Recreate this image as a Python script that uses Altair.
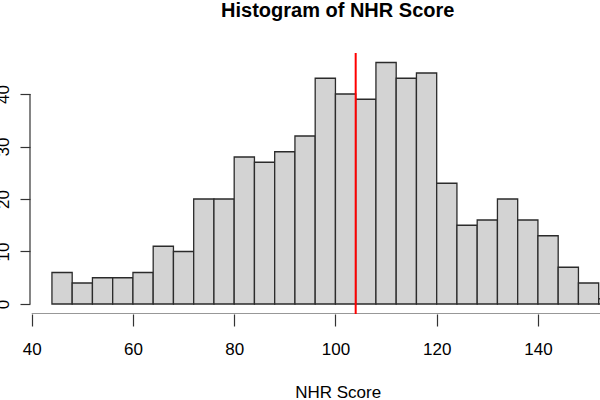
import altair as alt
import pandas as pd

# Histogram bins (width 4) and counts
bin_starts = [44, 48, 52, 56, 60, 64, 68, 72, 76, 80, 84, 88, 92, 96, 100,
              104, 108, 112, 116, 120, 124, 128, 132, 136, 140, 144, 148, 152]
counts = [6, 4, 5, 5, 6, 11, 10, 20, 20, 28, 27, 29, 32, 43, 40,
          39, 46, 43, 44, 23, 15, 16, 20, 16, 13, 7, 4, 1]
bin_width = 4
mean_value = 104
x_ticks = [40, 60, 80, 100, 120, 140, 160]
y_ticks = [0, 10, 20, 30, 40]
title_text = "Histogram of NHR Score"

df = pd.DataFrame({
    "start": bin_starts,
    "end": [b + bin_width for b in bin_starts],
    "count": counts,
})

FONT = "Liberation Sans"
X_DOMAIN = [33.74, 152.26]
Y_DOMAIN = [-1.905, 47.81]
W, H = 600, 261

xscale = alt.Scale(domain=X_DOMAIN, nice=False, zero=False)
yscale = alt.Scale(domain=Y_DOMAIN, nice=False, zero=False)

bars = alt.Chart(df).mark_rect(
    fill="#D3D3D3", stroke="#2b2b2b", strokeWidth=1.3, clip=True
).encode(
    x=alt.X("start:Q", scale=xscale, axis=alt.Axis(
        values=x_ticks, domain=False, grid=False, tickSize=12,
        tickColor="#333333", tickWidth=1.2,
        labelFontSize=17, labelFont=FONT, labelColor="#000000",
        labelBaseline="alphabetic", labelPadding=28, labelFlush=False,
        labelOverlap=False,
        title="NHR Score", titleFont=FONT, titleFontSize=17,
        titleFontWeight="normal", titleColor="#000000",
        titleX=337.7, titleY=83, titleAlign="center",
        titleBaseline="alphabetic",
    )),
    x2="end:Q",
    y=alt.Y("count:Q", scale=yscale, axis=alt.Axis(
        values=y_ticks, domain=False, grid=False, tickSize=10,
        tickColor="#333333", tickWidth=1.2, offset=-30,
        labelFontSize=17, labelFont=FONT, labelColor="#000000",
        labelAngle=270, labelAlign="center", labelBaseline="alphabetic",
        labelPadding=12, labelFlush=False, labelOverlap=False,
        title=None,
    )),
    y2=alt.datum(0),
)

x_axis_line = alt.Chart(pd.DataFrame({"a": [x_ticks[0]], "b": [x_ticks[-1]]})).mark_rule(
    color="#333333", strokeWidth=1.2, clip=True
).encode(
    x=alt.X("a:Q", scale=xscale),
    x2="b:Q",
    y=alt.value(H),
)

y_axis_line = alt.Chart(pd.DataFrame({"a": [y_ticks[0]], "b": [y_ticks[-1]]})).mark_rule(
    color="#333333", strokeWidth=1.2
).encode(
    y=alt.Y("a:Q", scale=yscale),
    y2="b:Q",
    x=alt.value(30),
)

mean_line = alt.Chart(pd.DataFrame({"m": [mean_value]})).mark_rule(
    color="#FF0000", strokeWidth=2
).encode(
    x=alt.X("m:Q", scale=xscale),
)

title_mark = alt.Chart(pd.DataFrame({"t": [title_text]})).mark_text(
    font=FONT, fontSize=20, fontWeight="bold", color="#000000",
    align="center", baseline="alphabetic",
).encode(
    text="t:N",
    x=alt.value(337.7),
    y=alt.value(-36),
)

chart = alt.layer(bars, x_axis_line, y_axis_line, mean_line, title_mark).properties(
    width=W,
    height=H,
    background="white",
    autosize=alt.AutoSizeParams(type="none"),
    padding={"left": 0, "right": 0, "top": 53, "bottom": 86},
).configure_view(stroke=None)

chart.save("out.html", embed_options={"renderer": "svg", "actions": False})
